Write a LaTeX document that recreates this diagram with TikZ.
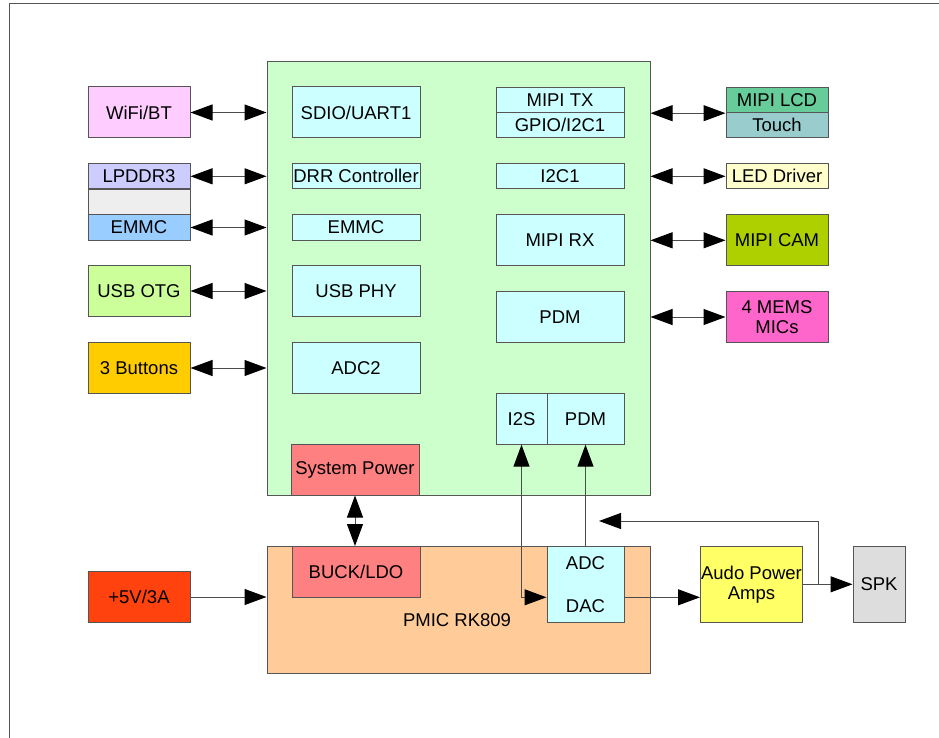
\documentclass[tikz,border=0pt]{standalone}
\usepackage{fontspec}
\setmainfont{Liberation Sans}
\usepackage{tikz}
\usetikzlibrary{arrows.meta}

\definecolor{edgegray}{HTML}{555555}
\definecolor{socgreen}{HTML}{CCFFCC}
\definecolor{ipcyan}{HTML}{CCFFFF}
\definecolor{pmicorange}{HTML}{FFCC99}
\definecolor{pwrred}{HTML}{FF8080}
\definecolor{wifipink}{HTML}{FFCCFF}
\definecolor{ddrblue}{HTML}{CCCCFF}
\definecolor{gapgray}{HTML}{EEEEEE}
\definecolor{emmcblue}{HTML}{99CCFF}
\definecolor{otggreen}{HTML}{CCFF99}
\definecolor{btnyellow}{HTML}{FFCC00}
\definecolor{supplyred}{HTML}{FF420E}
\definecolor{lcdgreen}{HTML}{66CC99}
\definecolor{touchteal}{HTML}{99CCCC}
\definecolor{ledcream}{HTML}{FFFFCC}
\definecolor{camgreen}{HTML}{AECF00}
\definecolor{micpink}{HTML}{FF66CC}
\definecolor{ampyellow}{HTML}{FFFF66}
\definecolor{spkgray}{HTML}{DDDDDD}

\begin{document}
\begin{tikzpicture}[x=1pt, y=-1pt, line width=1pt,
    >={Triangle[length=22pt,width=16pt,color=black]},
    box/.style={draw=edgegray, inner sep=0pt, align=center, font=\fontsize{18.5}{20}\selectfont},
    ext/.style={box, minimum width=102pt},
    ip/.style={box, fill=ipcyan, minimum width=128pt},
    tall/.style={minimum height=51pt},
    flat/.style={minimum height=25.4pt},
    link/.style={draw=black!70}]

\useasboundingbox (0,0) rectangle (939,738);
\clip (0,0) rectangle (939,738);
% page frame
\draw[edgegray] (9.5,4) rectangle (960,760);

% SoC and PMIC blocks
\draw
    node at(458.5,278.5)[box,fill=socgreen,minimum width=383pt,minimum height=433pt,name=soc]{}
    node at(458.5,610)[box,fill=pmicorange,minimum width=383pt,minimum height=127pt,name=pmic]{}
    node at(457,620)[font=\fontsize{18.5}{20}\selectfont,name=pmiclabel]{PMIC RK809}
;

% peripherals on the left
\draw
    node at(139,112.5)[ext,tall,fill=wifipink,name=wifi]{WiFi/BT}
    node at(139,176.3)[ext,flat,fill=ddrblue,name=lpddr]{LPDDR3}
    node at(139,202)[ext,flat,fill=gapgray,name=memgap]{}
    node at(139,227.5)[ext,flat,fill=emmcblue,name=emmc]{EMMC}
    node at(139,291)[ext,tall,fill=otggreen,name=usbotg]{USB OTG}
    node at(139,368)[ext,tall,fill=btnyellow,name=buttons]{3 Buttons}
    node at(139,597)[ext,tall,fill=supplyred,name=supply]{+5V/3A}
;

% SoC interfaces
\draw
    node at(356,112.5)[ip,tall,name=sdio]{SDIO/UART1}
    node at(356,176.3)[ip,flat,name=ddrctl]{DRR Controller}
    node at(356,227.5)[ip,flat,name=emmcif]{EMMC}
    node at(356,291)[ip,tall,name=usbphy]{USB PHY}
    node at(356,368)[ip,tall,name=adctwo]{ADC2}
    node at(355,469.5)[ip,tall,fill=pwrred,name=syspwr]{System Power}

    node at(560,100)[ip,flat,name=mipitx]{MIPI TX}
    node at(560,125.2)[ip,flat,name=gpio]{GPIO/I2C1}
    node at(560,176.3)[ip,flat,name=ictwo]{I2C1}
    node at(560,240.3)[ip,tall,name=mipirx]{MIPI RX}
    node at(560,317)[ip,tall,name=pdm]{PDM}
    node at(521.5,418.7)[box,tall,fill=ipcyan,minimum width=51pt,name=i2s]{I2S}
    node at(585.5,418.7)[box,tall,fill=ipcyan,minimum width=77pt,name=pdmin]{PDM}
;

% peripherals on the right
\draw
    node at(777,100)[ext,flat,fill=lcdgreen,name=lcd]{MIPI LCD}
    node at(777,125.2)[ext,flat,fill=touchteal,name=touch]{Touch}
    node at(777,176.3)[ext,flat,fill=ledcream,name=led]{LED Driver}
    node at(777,240.3)[ext,tall,fill=camgreen,name=cam]{MIPI CAM}
    node at(777,317)[ext,tall,fill=micpink,name=mics]{4 MEMS\\MICs}
;

% PMIC parts and audio out
\draw
    node at(356,572)[ip,tall,fill=pwrred,name=buck]{BUCK/LDO}
    node at(585.5,584.3)[box,fill=ipcyan,minimum width=77pt,minimum height=76pt,name=codec]{}
    node at(585.5,562.7)[font=\fontsize{18.5}{20}\selectfont,name=adctxt]{ADC}
    node at(585.5,605.7)[font=\fontsize{18.5}{20}\selectfont,name=dactxt]{DAC}
    node at(751.5,584.3)[box,fill=ampyellow,minimum width=102pt,minimum height=76pt,name=amps]{Audo Power\\Amps}
    node at(879,584.3)[box,fill=spkgray,minimum width=52pt,minimum height=76pt,name=spk]{SPK}
;
\coordinate (fbtip) at (599,521);

\draw[link,<->](wifi) -- (wifi -| soc.west);
\draw[link,<->](lpddr) -- (lpddr -| soc.west);
\draw[link,<->](emmc) -- (emmc -| soc.west);
\draw[link,<->](usbotg) -- (usbotg -| soc.west);
\draw[link,<->](buttons) -- (buttons -| soc.west);

\draw[link,<->](soc.east |- lcd.south) -- (lcd.south west);
\draw[link,<->](soc.east |- led) -- (led);
\draw[link,<->](soc.east |- cam) -- (cam);
\draw[link,<->](soc.east |- mics) -- (mics);

\draw[link,<->](syspwr.south) -- (syspwr.south |- buck.north);
\draw[link,->](supply) -- (supply -| pmic.west);

\draw[link,<->](i2s.south) |- ([yshift=-13pt]codec.west);
\draw[link,->](codec.north) -- (pdmin.south);
\draw[link,->]([yshift=-13pt]codec.east) -- ([yshift=-13pt]codec.east -| amps.west);
\draw[link,->](amps) -- (spk);
\draw[link,->]([xshift=15pt]amps.east) |- (fbtip);

\end{tikzpicture}
\end{document}
